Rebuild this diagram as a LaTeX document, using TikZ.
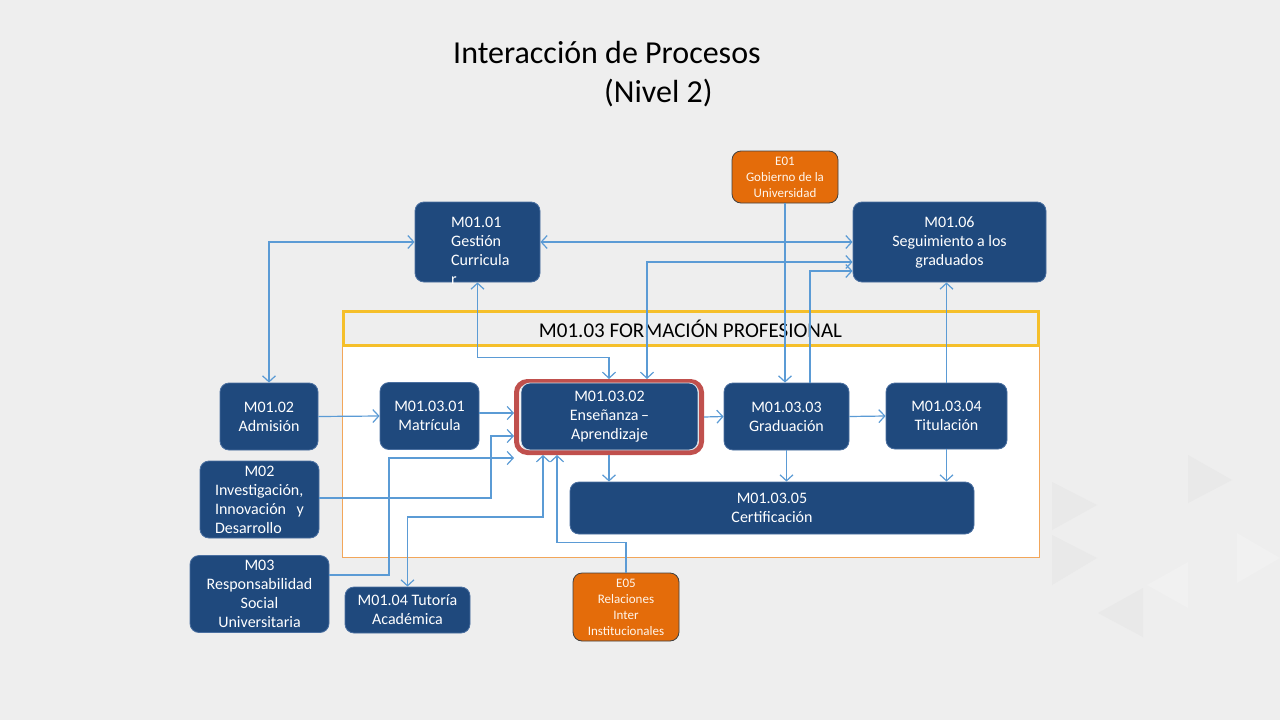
\documentclass[tikz,border=0pt]{standalone}
\usepackage{fontspec}
\setmainfont{Carlito}
\usetikzlibrary{arrows.meta}
\definecolor{bgc}{HTML}{EEEEEE}
\definecolor{trid}{HTML}{E9E9E9}
\definecolor{tril}{HTML}{F1F1F1}
\definecolor{boxblue}{HTML}{1F497D}
\definecolor{boxedge}{HTML}{4A6FA0}
\definecolor{orangebox}{HTML}{E46C0A}
\definecolor{hlred}{HTML}{C0504D}
\definecolor{hdyellow}{HTML}{F5BF2A}
\definecolor{frameor}{HTML}{F2A65A}
\definecolor{conn}{HTML}{5B9BD5}
\tikzset{
  pbox/.style={fill=boxblue, draw=boxedge, line width=0.8pt, rounded corners=9pt, text=white,
    align=center, inner sep=0pt, font=\fontsize{16}{19}\selectfont},
  ebox/.style={fill=orangebox, draw=black!75, line width=0.8pt, rounded corners=9pt, text=white!92!orange,
    align=center, inner sep=0pt, font=\fontsize{13}{16}\selectfont},
  conline/.style={draw=conn, line width=1.2pt, arrows={-}},
  tip/.style={-{Straight Barb[length=6pt,width=13pt,line width=1.2pt]}},
  tips/.style={{Straight Barb[length=6pt,width=13pt,line width=1.2pt]}-{Straight Barb[length=6pt,width=13pt,line width=1.2pt]}},
}
\begin{document}
\begin{tikzpicture}[x=1pt,y=-1pt]
\useasboundingbox (0,0) rectangle (1280,720);
\fill[bgc] (0,0) rectangle (1280,720);
% faint background triangles
\fill[trid] (1052,482) -- (1097,505) -- (1052,530) -- cycle;
\fill[trid] (1052,535) -- (1097,558) -- (1052,585) -- cycle;
\fill[trid] (1143,588) -- (1098,613) -- (1143,637) -- cycle;
\fill[trid] (1188,455) -- (1232,480) -- (1188,503) -- cycle;
\fill[tril] (1237,533) -- (1280,558) -- (1237,583) -- cycle;
\fill[tril] (1188,562) -- (1147,585) -- (1188,608) -- cycle;
% title
\node[anchor=base west, font=\fontsize{32}{38}\selectfont, inner sep=0pt] (title1) at (453,63) {Interacción de Procesos};
\node[anchor=base west, font=\fontsize{32}{38}\selectfont, inner sep=0pt] (title2) at (604,102) {(Nivel 2)};
% frame and header
\node[draw=frameor, fill=white, line width=0.8pt, minimum width=697pt, minimum height=211pt, inner sep=0pt] (frame) at (690.5,451.5) {};
\node[draw=hdyellow, fill=bgc, line width=3pt, minimum width=695pt, minimum height=34pt, inner sep=0pt,
  font=\fontsize{21}{24}\selectfont] (header) at (690.5,328.5) {M01.03 FORMACIÓN PROFESIONAL};
% boxes
\node[pbox, minimum width=125pt, minimum height=80pt] (m0101) at (477.5,242) {};
\node[anchor=north west, text=white, align=left, inner sep=0pt, font=\fontsize{16}{19}\selectfont] (m0101t) at (451,217) {M01.01\\Gestión\\Curricula\\r};
\node[pbox, minimum width=193pt, minimum height=80pt] (m0106) at (949.5,242) {M01.06\\Seguimiento a los\\graduados};
\node[ebox, minimum width=106pt, minimum height=52pt] (e01) at (785,177) {E01\\Gobierno de la\\Universidad};
\node[pbox, minimum width=98pt, minimum height=67pt] (m0102) at (269,416.5) {M01.02\\Admisión};
\node[pbox, minimum width=99pt, minimum height=67pt] (m010301) at (429.5,416) {M01.03.01\\Matrícula};
\node[draw=hlred, line width=5pt, rounded corners=11pt, minimum width=185pt, minimum height=71pt, inner sep=0pt] (hl) at (609,417) {};
\node[pbox, draw=white!80!boxblue, minimum width=177pt, minimum height=67pt] (m010302) at (609.5,416.5) {M01.03.02\\Enseñanza\,–\\Aprendizaje};
\node[pbox, minimum width=125pt, minimum height=67pt] (m010303) at (786.5,416.5) {M01.03.03\\Graduación};
\node[pbox, minimum width=121pt, minimum height=66pt] (m010304) at (946.5,416) {M01.03.04\\Titulación};
\node[pbox, minimum width=404pt, minimum height=52pt] (m010305) at (772,508) {M01.03.05\\Certificación};
\node[pbox, minimum width=119pt, minimum height=77pt, align=left, text width=89pt] (m02) at (259.5,499.5) {\hfill M02\hfill\null\\Investigación,\\Innovación\hfill y\\Desarrollo};
\node[pbox, minimum width=139pt, minimum height=77pt] (m03) at (259.5,594) {M03\\Responsabilidad\\Social\\Universitaria};
\node[pbox, minimum width=125pt, minimum height=46pt] (m0104) at (407.5,610) {M01.04 Tutoría\\Académica};
\node[ebox, minimum width=106pt, minimum height=68pt] (e05) at (626,607) {E05\\Relaciones\\Inter\\Institucionales};
% connectors
\draw[conline, tips] (m0101.west) -| (m0102.north);
\draw[conline, tips] (m0101.east) -- (m0106.west);
\draw[conline, tips] (m0101.south) -- ++(0,75) -| (hl.north);
\draw[conline, tips] ([yshift=-20pt]m0106.west) -| ([xshift=38pt]hl.north);
\draw[conline, tip] ([xshift=23.5pt]m010303.north) |- ([yshift=-29pt]m0106.west);
\draw[conline, tip] (e01.south) -- (e01.south |- m010303.north);
\draw[conline, tip] (m010304.north) -- (m010304.north |- m0106.south);
\draw[conline, tip] (m0102.east) -- (m010301.west);
\draw[conline, tip] ([yshift=3pt]m010301.east) -- ([yshift=3pt]m010301.east -| hl.west);
\draw[conline, tip] (hl.east) -- (m010303.west);
\draw[conline, tip] (m010303.east) -- (m010304.west);
\draw[conline, tip] (hl.south) -- (hl.south |- m010305.north);
\draw[conline, tip] (m010303.south) -- (m010303.south |- m010305.north);
\draw[conline, tip] (m010304.south) -- (m010304.south |- m010305.north);
\draw[conline, tip] ([yshift=1.5pt]m02.east) -| ([xshift=-23pt,yshift=-19pt]hl.west) -- ([yshift=-19pt]hl.west);
\draw[conline, tip] ([yshift=19pt]m03.east) -| ([xshift=-125pt,yshift=-41pt]hl.west) -- ([yshift=-41pt]hl.west);
\draw[conline, tips] ([xshift=-66pt]hl.south) -- ++(0,62) -| (m0104.north);
\draw[conline, tip] (e05.north) -- ++(0,-30) -| ([xshift=-52pt]hl.south);
\end{tikzpicture}
\end{document}
